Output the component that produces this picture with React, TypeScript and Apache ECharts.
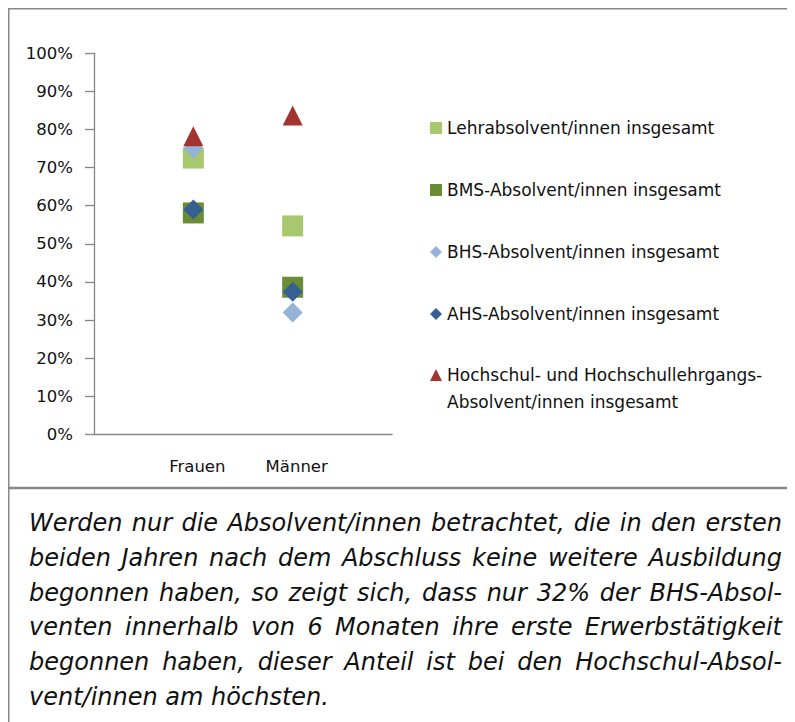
import React, { useEffect, useRef } from "react";
import * as echarts from "echarts";

// ---- data ----
const categories = ["Frauen", "Männer"];
const seriesNames = [
  "Lehrabsolvent/innen insgesamt",
  "BMS-Absolvent/innen insgesamt",
  "BHS-Absolvent/innen insgesamt",
  "AHS-Absolvent/innen insgesamt",
  "Hochschul- und Hochschullehrgangs-\nAbsolvent/innen insgesamt",
];
const lehrValues = [72.5, 54.7];
const bmsValues = [58.1, 38.6];
const bhsValues = [75.0, 32.0];
const ahsValues = [59.0, 37.4];
const hochValues = [78.2, 83.7];
const yTickMin = 0;
const yTickMax = 100;
const yTickStep = 10;

const captionLines = [
  "Werden nur die Absolvent/innen betrachtet, die in den ersten",
  "beiden Jahren nach dem Abschluss keine weitere Ausbildung",
  "begonnen haben, so zeigt sich, dass nur 32% der BHS-Absol-",
  "venten innerhalb von 6 Monaten ihre erste Erwerbstätigkeit",
  "begonnen haben, dieser Anteil ist bei den Hochschul-Absol-",
  "vent/innen am höchsten.",
];

// ---- styles ----
const FONT = "DejaVu Sans";
const BORDER = "#878787";
const AXIS = "#868686";
const colors = ["#A8C86E", "#6A8C34", "#95B3D7", "#366092", "#A33331"];
const symbols = ["rect", "rect", "diamond", "diamond", "triangle"];
const symbolSizes = [21, 21, 20, 20, 20];

const W = 787;
const H = 714;

function toPoints(values: number[]) {
  return values.map((v, i) => [i + 1, v]);
}

function buildCaption(): any[] {
  const els: any[] = [];
  const fontSize = 24;
  const left = 21;
  const right = 774;
  const top = 515;
  const step = 34.8;
  const canvas = document.createElement("canvas");
  const ctx = canvas.getContext("2d")!;
  ctx.font = `italic ${fontSize}px "${FONT}"`;
  captionLines.forEach((line, li) => {
    const y = top + li * step;
    const last = li === captionLines.length - 1;
    const words = line.split(" ");
    const widths = words.map((w) => ctx.measureText(w).width);
    const total = widths.reduce((a, b) => a + b, 0);
    const spaceW = ctx.measureText(" ").width;
    const gap = last || words.length < 2 ? spaceW : (right - left - total) / (words.length - 1);
    let x = left;
    words.forEach((w, wi) => {
      els.push({
        type: "text",
        x,
        y,
        silent: true,
        style: {
          text: w,
          fontFamily: FONT,
          fontStyle: "italic",
          fontSize,
          fill: "#111",
          verticalAlign: "middle",
          align: "left",
        },
      });
      x += widths[wi] + gap;
    });
  });
  return els;
}

export default function App() {
  const ref = useRef<HTMLDivElement>(null);
  useEffect(() => {
    if (!ref.current) return;
    const chart = echarts.init(ref.current, null, { renderer: "svg" });
    const allValues = [lehrValues, bmsValues, bhsValues, ahsValues, hochValues];
    const legendText = { fontFamily: FONT, fontSize: 17, color: "#111", lineHeight: 27 };
    const option: any = {
      animation: false,
      backgroundColor: "#fff",
      grid: { left: 86, top: 45.3, width: 298, height: 381 },
      xAxis: {
        type: "value",
        min: 0,
        max: categories.length + 1,
        interval: 1,
        axisLine: { show: true, onZero: false, lineStyle: { color: AXIS, width: 1.3 } },
        axisTick: { show: false },
        splitLine: { show: false },
        axisLabel: {
          margin: 24,
          fontFamily: FONT,
          fontSize: 16.5,
          color: "#111",
          padding: [0, 0, 0, 8],
          formatter: (v: number) => (v >= 1 && v <= categories.length ? categories[v - 1] : ""),
        },
      },
      yAxis: {
        type: "value",
        min: yTickMin,
        max: yTickMax,
        interval: yTickStep,
        axisLine: { show: true, onZero: false, lineStyle: { color: AXIS, width: 1.3 } },
        axisTick: { show: true, length: 9, lineStyle: { color: AXIS, width: 1.3 } },
        splitLine: { show: false },
        axisLabel: {
          margin: 21,
          fontFamily: FONT,
          fontSize: 16.5,
          color: "#111",
          padding: [5, 0, 0, 0],
          formatter: "{value}%",
        },
      },
      legend: [
        {
          orient: "vertical",
          left: 417,
          top: 101.5,
          itemWidth: 12,
          itemHeight: 12,
          itemGap: 35,
          selectedMode: false,
          data: seriesNames.slice(0, 4),
          textStyle: legendText,
        },
        {
          orient: "vertical",
          left: 417,
          top: 321.5,
          itemWidth: 12,
          itemHeight: 12,
          selectedMode: false,
          data: [seriesNames[4]],
          formatter: (name: string) => "\n" + name,
          textStyle: legendText,
        },
      ],
      series: seriesNames.map((name, i) => ({
        name,
        type: "scatter",
        symbol: symbols[i],
        symbolSize: symbolSizes[i],
        itemStyle: { color: colors[i], opacity: 1 },
        data: toPoints(allValues[i]),
        z: 2 + i,
      })),
      graphic: [
        { type: "line", silent: true, shape: { x1: 0, y1: 0.5, x2: W, y2: 0.5 }, style: { stroke: BORDER, lineWidth: 2 } },
        { type: "line", silent: true, shape: { x1: 0.5, y1: 0, x2: 0.5, y2: H }, style: { stroke: BORDER, lineWidth: 2 } },
        { type: "line", silent: true, shape: { x1: 0, y1: 480, x2: W, y2: 480 }, style: { stroke: BORDER, lineWidth: 2.3 } },
        ...buildCaption(),
      ],
    };
    chart.setOption(option);
    return () => chart.dispose();
  }, []);
  return <div ref={ref} style={{ width: W, height: H }} />;
}
